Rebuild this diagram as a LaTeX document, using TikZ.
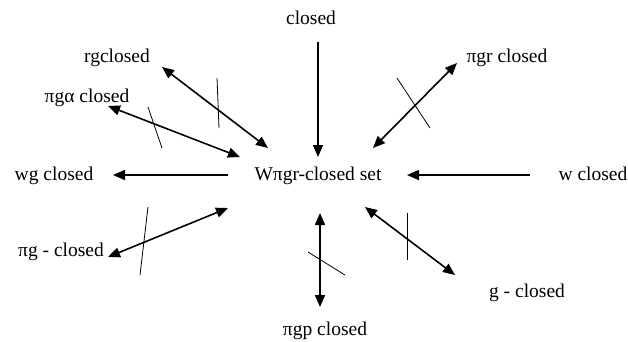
\documentclass[tikz,border=0pt]{standalone}
\usepackage{fontspec}
\setmainfont{Liberation Serif}
\usetikzlibrary{arrows.meta}
\begin{document}
\begin{tikzpicture}[x=1pt,y=-1pt,
  lbl/.style={font=\fontsize{19.5}{22}\selectfont, inner sep=0pt, anchor=base},
  tip/.style={Triangle[length=12pt,width=10pt]},
  arr/.style={line width=1.6pt, -{Triangle[length=12pt,width=10pt]}},
  darr/.style={line width=1.6pt, {Triangle[length=12pt,width=10pt]}-{Triangle[length=12pt,width=10pt]}},
  tick/.style={line width=0.8pt}]
\useasboundingbox (0,0) rectangle (628,341);
% labels
\node[lbl] (closed) at (311,24) {closed};
\node[lbl] (rg) at (117,62) {rgclosed};
\node[lbl] (pga) at (87,102) {πgα closed};
\node[lbl] (wg) at (54,180) {wg closed};
\node[lbl] (W) at (318,180) {Wπgr-closed set};
\node[lbl] (w) at (593,180) {w closed};
\node[lbl] (pgr) at (507,62) {πgr closed};
\node[lbl] (pg) at (61,256) {πg - closed};
\node[lbl] (g) at (527,297) {g - closed};
\node[lbl] (pgp) at (325,335) {πgp closed};
% connector end points
\coordinate (closedE) at (318,42);
\coordinate (WclosedE) at (318,157);
\coordinate (rgE) at (162,67);
\coordinate (WrgE) at (268,148);
\coordinate (pgaE) at (108,106);
\coordinate (WpgaE) at (240,157);
\coordinate (pgrE) at (457,63);
\coordinate (WpgrE) at (373,148);
\coordinate (WwgE) at (228,175);
\coordinate (wgE) at (113,175);
\coordinate (wE) at (530,175);
\coordinate (WwE) at (407,175);
\coordinate (pgE) at (108,257);
\coordinate (WpgE) at (228,208);
\coordinate (WpgpE) at (320,213);
\coordinate (pgpE) at (320,307);
\coordinate (WgE) at (365,207);
\coordinate (gE) at (455,275);
% connectors
\draw[arr] (closedE) -- (WclosedE);
\draw[darr] (rgE) -- (WrgE);
\draw[darr] (pgaE) -- (WpgaE);
\draw[darr] (pgrE) -- (WpgrE);
\draw[arr] (WwgE) -- (wgE);
\draw[arr] (wE) -- (WwE);
\draw[darr] (pgE) -- (WpgE);
\draw[darr] (WpgpE) -- (pgpE);
\draw[darr] (WgE) -- (gE);
% strike marks
\draw[tick] (217,78) -- (219,128);
\draw[tick] (148,107) -- (162,148);
\draw[tick] (397,78) -- (430,128);
\draw[tick] (148,207) -- (140,275);
\draw[tick] (308,252) -- (345,275);
\draw[tick] (407,213) -- (407,260);
\end{tikzpicture}
\end{document}
